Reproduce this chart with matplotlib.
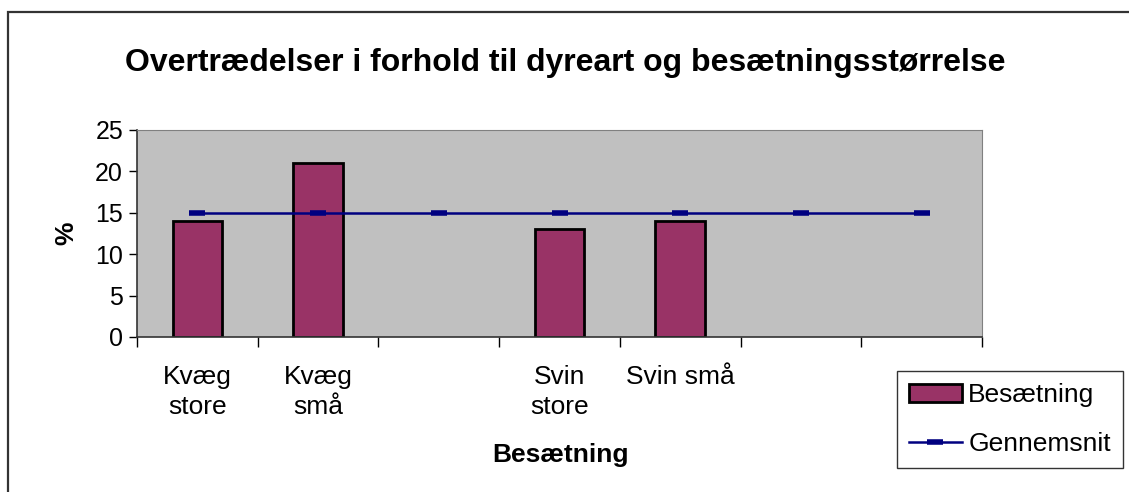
import matplotlib.pyplot as plt
import numpy as np
from matplotlib.patches import Rectangle

plt.rcParams['font.family'] = ['Liberation Sans', 'DejaVu Sans']

categories = ["Kvæg\nstore", "Kvæg\nsmå", "", "Svin\nstore", "Svin små", "", ""]
besaetning = [14, 21, np.nan, 13, 14, np.nan, np.nan]
gennemsnit = [15, 15, 15, 15, 15, 15, 15]

fig = plt.figure(figsize=(11.29, 4.92), dpi=100)

# outer chart frame (only top and left show in the picture)
fig.patches.append(Rectangle((8 / 1129, -0.1), 1.2, (492 - 12) / 492 + 0.1,
                             transform=fig.transFigure, fill=False,
                             edgecolor='#333333', linewidth=1.6))

ax = fig.add_axes([137 / 1129, (492 - 337) / 492, (982 - 137) / 1129, (337 - 130) / 492])
ax.set_facecolor('#C0C0C0')

x = np.arange(len(categories))
ax.bar(x, besaetning, width=0.41, color='#993366', edgecolor='black',
       linewidth=2, label='Besætning', zorder=2)
ax.plot(x, gennemsnit, color='#000080', linewidth=1.8, marker='_',
        markersize=11, markeredgewidth=4, label='Gennemsnit', zorder=3)

ax.set_xlim(-0.5, len(categories) - 0.5)
ax.set_ylim(0, 25)
ax.set_yticks([0, 5, 10, 15, 20, 25])
ax.tick_params(axis='y', labelsize=18, length=6, width=1, pad=4, direction='out')

ax.set_xticks(x)
ax.set_xticklabels(categories, fontsize=19, linespacing=1.32)
ax.tick_params(axis='x', which='major', length=0, pad=20)
ax.set_xticks(np.arange(-0.5, len(categories), 1), minor=True)
ax.tick_params(axis='x', which='minor', length=7, width=1, direction='out')

for s in ['top', 'right']:
    ax.spines[s].set_color('#808080')
for s in ['left', 'bottom']:
    ax.spines[s].set_color('#333333')
    ax.spines[s].set_linewidth(1.2)

ax.set_ylabel('%', fontsize=19, fontweight='bold', labelpad=12)
fig.text(560 / 1129, (492 - 455) / 492, 'Besætning', fontsize=19,
         fontweight='bold', ha='center', va='center')
fig.text(565 / 1129, (492 - 63) / 492,
         'Overtrædelser i forhold til dyreart og besætningsstørrelse',
         fontsize=23, fontweight='bold', ha='center', va='center')

h, l = ax.get_legend_handles_labels()
order = [l.index('Besætning'), l.index('Gennemsnit')]
leg = fig.legend([h[i] for i in order], [l[i] for i in order],
                 loc='lower left', bbox_to_anchor=(897 / 1129, (492 - 468) / 492),
                 borderaxespad=0, fontsize=19, frameon=True, fancybox=False,
                 handlelength=2.0, handletextpad=0.25, borderpad=0.45,
                 labelspacing=0.95)
leg.get_frame().set_edgecolor('black')
leg.get_frame().set_linewidth(1)

fig.savefig('out.png', dpi=100)
